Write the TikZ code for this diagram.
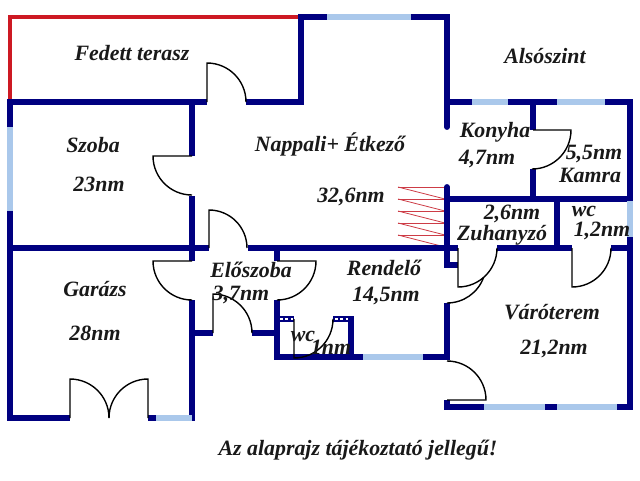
\documentclass[tikz,border=0pt]{standalone}
\usepackage{fontspec}
\setmainfont{Liberation Serif}
\definecolor{wallc}{RGB}{0,0,128}
\definecolor{winc}{RGB}{170,200,235}
\definecolor{redc}{RGB}{205,25,35}
\definecolor{stairc}{RGB}{205,60,70}
\tikzset{
  wall/.style={draw=wallc,line width=4.4pt,line cap=butt,line join=miter},
  wallend/.style={draw=wallc,line width=4.4pt,line cap=round,line join=miter},
  win/.style={draw=winc,line width=4.2pt},
  ter/.style={draw=redc,line width=2.5pt},
  door/.style={draw=black,line width=1.05pt},
  stair/.style={draw=stairc,line width=0.6pt},
  speck/.style={draw=white,line width=1.2pt,dash pattern=on 2pt off 2pt},
  lab/.style={font=\fontsize{16.4}{18}\selectfont\bfseries\itshape,text=black!90,inner sep=0pt}
}
\begin{document}
\begin{tikzpicture}[x=0.75pt,y=-0.75pt]
\useasboundingbox (0,0) rectangle (640,480);
\fill[white] (0,0) rectangle (640,480);
% terrace
\draw[ter] (10,102) -- (10,17) -- (300,17);
% stairs
\foreach \y in {187,199,211,223,235}{
  \draw[stair] (398,\y) -- (447,\y);
  \draw[stair] (398,\y) -- (447,\y+12.5);
}
% walls
\draw[wall] (7,102) -- (207,102);
\draw[wall] (246,102) -- (301,102) -- (301,14.5);
\draw[wall] (298,17) -- (447,17) -- (447,110);
\draw[wallend] (447,100) -- (447,127);
\draw[wall] (445,102) -- (630,102) -- (630,407) -- (447,407) -- (447,400);
\draw[wall] (10,100) -- (10,418) -- (70,418);
\draw[wall] (148,418) -- (192,418) -- (192,300);
\draw[wall] (192,102) -- (192,156);
\draw[wall] (192,196) -- (192,261);
\draw[wall] (10,248) -- (209,248);
\draw[wall] (192,333) -- (213,333);
\draw[wall] (252,333) -- (277,333);
\draw[wall] (248,248) -- (458,248);
\draw[wall] (277,248) -- (277,261);
\draw[wall] (277,300) -- (277,357) -- (447,357) -- (447,303);
\draw[wall] (277,319) -- (294,319);
\draw[wall] (333,319) -- (351,319) -- (351,357);
\draw[wallend] (447,187) -- (447,200);
\draw[wall] (447,195) -- (447,265) -- (458,265);
\draw[wall] (447,199) -- (630,199);
\draw[wall] (533,102) -- (533,130);
\draw[wall] (533,169) -- (533,199);
\draw[wall] (557,199) -- (557,248);
\draw[wall] (497,248) -- (572,248);
\draw[wall] (611,248) -- (630,248);
% windows
\draw[win] (327,17) -- (411,17);
\draw[win] (10,127) -- (10,211);
\draw[win] (472,102) -- (508,102);
\draw[win] (557,102) -- (605,102);
\draw[win] (630,201) -- (630,237);
\draw[win] (156,418) -- (192,418);
\draw[win] (363,357) -- (423,357);
\draw[win] (484,407) -- (545,407);
\draw[win] (557,407) -- (617,407);
% watermark specks on the small wc walls
\draw[speck] (280,319) -- (293,319);
\draw[speck] (335,319) -- (350,319);
% doors
\draw[door] (207,102) -- (207,63) arc[start angle=270,end angle=360,radius=39];
\draw[door] (192,156) -- (153,156) arc[start angle=180,end angle=90,radius=39];
\draw[door] (209,248) -- (209,210) arc[start angle=270,end angle=360,radius=38];
\draw[door] (192,261) -- (153,261) arc[start angle=180,end angle=90,radius=39];
\draw[door] (277,261) -- (316,261) arc[start angle=0,end angle=90,radius=39];
\draw[door] (213,333) -- (213,294) arc[start angle=270,end angle=360,radius=39];
\draw[door] (294,319) -- (294,358) arc[start angle=90,end angle=0,radius=39];
\draw[door] (70,418) -- (70,379) arc[start angle=270,end angle=360,radius=39];
\draw[door] (148,418) -- (148,379) arc[start angle=270,end angle=180,radius=39];
\draw[door] (533,130) -- (571,130) arc[start angle=0,end angle=90,radius=39];
\draw[door] (458,248) -- (458,287) arc[start angle=90,end angle=0,radius=39];
\draw[door] (447,303) arc[start angle=90,end angle=20,radius=39];
\draw[door] (572,248) -- (572,287) arc[start angle=90,end angle=0,radius=39];
\draw[door] (447,361) arc[start angle=270,end angle=360,radius=39] -- (447,400);
% labels
\node[lab] (terasz) at (132,53) {Fedett terasz};
\node[lab] (szoba) at (93,145) {Szoba};
\node[lab] (szobam) at (99,184) {23nm};
\node[lab] (nappali) at (330,144) {Nappali+ Étkező};
\node[lab] (nappalim) at (351,197) {32,6nm};
\node[lab] (szint) at (545,56) {Alsószint};
\node[lab] (konyha) at (495,132) {Konyha};
\node[lab] (konyham) at (487,159) {4,7nm};
\node[lab] (kamram) at (594,154) {5,5nm};
\node[lab] (kamra) at (590,175) {Kamra};
\node[lab] (zuhm) at (512,214) {2,6nm};
\node[lab] (zuh) at (502,235) {Zuhanyzó};
\node[lab] (wca) at (584,211) {wc};
\node[lab] (wcam) at (602,231) {1,2nm};
\node[lab] (garazs) at (95,289) {Garázs};
\node[lab] (garazsm) at (95,333) {28nm};
\node[lab] (eloszoba) at (251,270) {Előszoba};
\node[lab] (eloszobam) at (241,295) {3,7nm};
\node[lab] (rendelo) at (384,268) {Rendelő};
\node[lab] (rendelom) at (386,296) {14,5nm};
\node[lab] (wcb) at (303,336) {wc};
\node[lab] (wcbm) at (331,347) {1nm};
\node[lab] (varo) at (552,312) {Váróterem};
\node[lab] (varom) at (554,349) {21,2nm};
\node[lab] (note) at (358,450) {Az alaprajz tájékoztató jellegű!};
\end{tikzpicture}
\end{document}
